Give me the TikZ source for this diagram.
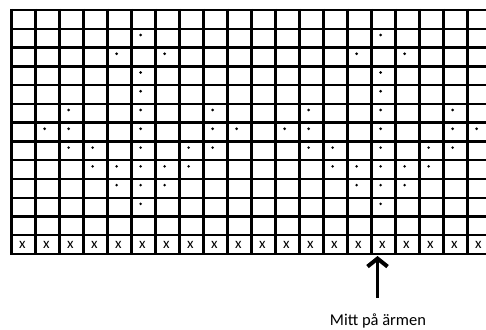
\documentclass[tikz,border=0pt]{standalone}
\usepackage{fontspec}
\setmainfont{Carlito}
\usetikzlibrary{arrows.meta}
\begin{document}
\begin{tikzpicture}[x=1pt,y=-1pt,
  gridline/.style={line width=2.4pt},
  dotmark/.style={circle, fill=black, inner sep=0pt, minimum size=2.9pt},
  xmark/.style={inner sep=0pt, font=\fontsize{15}{15}\selectfont},
  pointer/.style={line width=2.2pt, -{Straight Barb[length=8pt,width=20pt,line width=4pt]}},
  caption/.style={font=\fontsize{16.5}{18}\selectfont, inner sep=0pt, anchor=base}]
\useasboundingbox (0,0) rectangle (486,329);
\fill[white] (0,0) rectangle (486,329);
% grid
\foreach \i in {0,...,19}
  \draw[gridline] (11.5+\i*24,8.8) -- (11.5+\i*24,255.2);
\foreach \j in {0,...,13}
  \draw[gridline] (10.3,10+\j*18.77) -- (487,10+\j*18.77);
% dots (two repeated motifs centred on columns 5 and 15)
\foreach \c in {5,15}{
  \foreach \o/\r in {0/1, -1/2, 1/2, 0/3, 0/4, -3/5, 0/5, 3/5,
                     -4/6, -3/6, 0/6, 3/6, 4/6,
                     -3/7, -2/7, 0/7, 2/7, 3/7,
                     -2/8, -1/8, 0/8, 1/8, 2/8,
                     -1/9, 0/9, 1/9, 0/10}
    \node[dotmark] (d-\c-\o-\r) at ({11.5+(\c+\o+0.38)*24},{10+(\r+0.33)*18.77}) {};
}
% x row
\foreach \i in {0,...,19}
  \node[xmark] (x\i) at ({11.5+(\i+0.45)*24},{10+12.5*18.77}) {x};
% arrow and caption
\node[caption] (lab) at (378,325) {Mitt på ärmen};
\coordinate (tip) at (377.5,256);
\coordinate (tail) at (377.5,298);
\draw[pointer] (tail) -- (tip);
\end{tikzpicture}
\end{document}
